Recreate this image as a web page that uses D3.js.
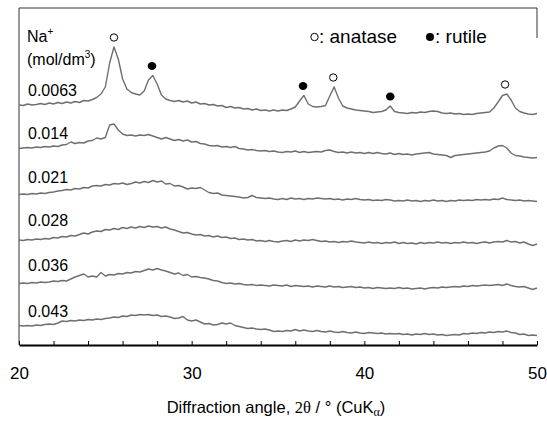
<!DOCTYPE html>
<html><head><meta charset="utf-8">
<script src="https://cdn.jsdelivr.net/npm/d3@7"></script>
<style>body{margin:0;background:#fff}svg{display:block}</style>
</head><body>
<svg id="c" width="547" height="421"></svg>
<script>
// ---- data ----
const scanStart = 20, scanStep = 0.25;            // 2θ sampling (deg)
const concentrations = ["0.0063", "0.014", "0.021", "0.028", "0.036", "0.043"]; // Na+ mol/dm3
const offsets = [230, 187, 143, 100, 55, 9];      // stacking offset (a.u.)
const xTickLabels = [20, 30, 40, 50];
const anatasePeaks = [25.5, 38.2, 48.15];
const rutilePeaks = [27.7, 36.45, 41.5];

const s0063 = [
 10,9.5,11,10, 10.5,11.5,10.5,12, 11,12.5,11.5,13, 12,13.5,12.5,14.5, 14,15.5,17.5,21,
 28,52,68,56, 36,26,22.5,21, 20,24,35,39.5, 31,20,16,14.5, 13.5,14.5,13,14,
 12,13,11,11.5, 10,10.5,9,9.5, 7.5,8.5,7,7.5, 6,6.5,5,6, 4.5,5,4,5,
 4,5,4.5,6, 8,14,19.5,11, 8.5,8,8.5,9.5, 19,28,17,9, 7,6,5,4.5,
 4,3.5,2.5,3, 3.5,5,9,3.5, 2.5,2,1.5,2.5, 2,3,2.5,3.5, 4,3.5,2,1.5,
 2,1,1.5,0.5, 1,0.5,1.5,2, 2.5,3,7,13, 19.5,21,15,7, 3.5,2,1,0.5, 1.5];
const s014 = [
 9.5,10,10.5,10, 11,10.5,11.5,11, 12,11.5,13,13.5, 16,14.5,15.5,15, 17,17.5,20,19,
 20.5,33,34,28, 24,22.5,23,22, 23,22.5,23.5,22, 20.5,19,20.5,19, 17.5,18.5,17,18,
 16,16.5,14.5,14, 12.5,12,12.5,11, 11.5,10.5,11.5,9.5, 9,8,8.5,7.5, 7,7.5,6.5,7,
 6,5.5,6.5,6, 7,5.5,6.5,5.5, 6,6.5,6,7.5, 8,6.5,5.5,6, 5,6,5,5.5,
 4.5,5.5,4.5,5.5, 4.5,4,5,3.5, 4.5,3.5,4,3, 4,4.5,5,5.5, 4,3.5,3,2.5,
 0.5,2.5,3,3.5, 4,4.5,5,5.5, 6,7,10,12, 12.5,10,5,2.5, 2,1,0.5,0, 0.5];
const s021 = [
 7.5,8,7.5,8.5, 8,9,8.5,9.5, 10,11,11.5,12.5, 12,13.5,13,14.5, 14,16,16.5,16,
 17.5,17,18.5,18, 19,17.5,18.5,20, 19,20.5,19.5,21.5, 20,21,18,18.5, 16,16.5,15,13,
 14,13.5,14.5,12, 9.5,8.5,9,7, 6.5,6,5.5,5, 4,4.5,6.5,4.5, 4,3.5,4,3,
 2.5,3.5,2.5,4, 3,3.5,2.5,3.5, 3,4,3.5,3, 3.5,2.5,3,2, 3,2.5,3.5,2.5,
 2,2.5,1.5,2, 1.5,2.5,2,1, 1.5,1,2,1, 1.5,0.5,1.5,1, 2,1,1.5,0.5,
 1.5,1,2,1.5, 2,1.5,2.5,2, 2.5,2,3,2.5, 4,2.5,2,1.5, 2,1,1.5,1, 0.5];
const s028 = [
 5,4.5,5.5,5, 6,5.5,6.5,6, 7.5,7,8.5,8, 9.5,9,10.5,12, 11,13,14,13.5,
 15.5,15,16.5,15.5, 17.5,16.5,18,17, 18.5,17.5,19,18, 18.5,17,18,16, 15,13.5,12,12.5,
 11,10,10.5,9, 9.5,8,9,7.5, 8,6.5,7,5.5, 6,5,5.5,4, 4.5,3.5,4.5,3.5,
 3,4,4.5,3.5, 5,4,5,4.5, 5.5,4.5,3.5,4, 3,3.5,2.5,3.5, 3,4,3,2.5,
 2,3,2,2.5, 1.5,2.5,2,3, 1.5,2.5,1.5,2, 1,2.5,1.5,2.5, 2,3,2,2.5,
 1.5,2.5,2,3, 2,2.5,1.5,2.5, 3,2,3,3.5, 3,4.5,3,3.5, 2,3,1,-0.5, 1];
const s036 = [
 6.5,7,6.5,7.5, 7,8,7.5,8, 9,8.5,9.5,9, 11,13,14.5,16, 13,14,13,17.5,
 14,15.5,15,16.5, 16,17.5,17,18.5, 18,19.5,21,20, 21.5,20,19,17.5, 16,17,14.5,15.5,
 13,13.5,12.5,12, 11,9.5,9,7.5, 6.5,7,6,6.5, 5.5,5,5.5,4.5, 5,4.5,4,5,
 4.5,4,5,3.5, 4.5,4,3.5,4, 3,4,3.5,3, 4,3,3.5,2.5, 3,3.5,2.5,3,
 2,2.5,1.5,2.5, 2,1.5,2,1.5, 2.5,1.5,2,1, 1.5,2,1,2, 2.5,2,3,2.5,
 3,3.5,3,4, 3.5,4.5,4,4.5, 5,4.5,5,5.5, 4.5,6,4.5,3.5, 3,3.5,2,0.5, 2];
const s043 = [
 10.5,10,10.5,10, 11,10.5,11.5,12, 11.5,13,15,14.5, 15.5,15,16,15.5, 16.5,16,17,16.5,
 17.5,18,19,18.5, 20,19.5,21,20.5, 21.5,21,21.5,20.5, 21,19.5,20,19, 17.5,18,19.5,16,
 15,16,14,12, 12.5,11,11.5,13, 12,13,10.5,9.5, 8.5,7.5,8,7, 6.5,7,6,4.5,
 5,4.5,5.5,5, 6.5,5,6,5, 4.5,5.5,4.5,4, 5,4,3.5,4.5, 3.5,3,4,3,
 2.5,3.5,3,2.5, 3,2,2.5,2, 2.5,1.5,2,1, 2,1.5,2.5,1.5, 2,1,1.5,0.5,
 1,1.5,1,2.5, 2,3,2.5,3.5, 3,4,3.5,4.5, 4,5,3.5,3, 1.5,2,0.5,1, 0.5];
const seriesList = [s0063, s014, s021, s028, s036, s043];

// ---- drawing ----
const svg = d3.select("#c");
const x = d3.scaleLinear().domain([20, 50]).range([19, 537]);
const y = d3.scaleLinear().domain([0, 337]).range([345, 8]);
const FONT = "Arial, 'Liberation Sans', sans-serif";

// frame
svg.append("line").attr("x1", 19).attr("x2", 537).attr("y1", 8).attr("y2", 8)
  .attr("stroke", "#333").attr("stroke-width", 1);
svg.append("line").attr("x1", 19).attr("x2", 19).attr("y1", 8).attr("y2", 345)
  .attr("stroke", "#333").attr("stroke-width", 1);
svg.append("line").attr("x1", 537).attr("x2", 537).attr("y1", 8).attr("y2", 38)
  .attr("stroke", "#333").attr("stroke-width", 1);

// traces
const line = d3.line()
  .x((d, i) => x(scanStart + i * scanStep))
  .y(d => d);
seriesList.forEach((vals, k) => {
  const pts = vals.map(v => y(v + offsets[k]));
  svg.append("path")
    .attr("d", line(pts))
    .attr("fill", "none")
    .attr("stroke", "#6f6f6f")
    .attr("stroke-width", 1.4)
    .attr("stroke-linejoin", "round");
  svg.append("text")
    .attr("x", 28).attr("y", y(offsets[k]) - 19)
    .attr("font-family", FONT).attr("font-size", 16).attr("fill", "#000")
    .text(concentrations[k]);
});

// peak markers above the 0.0063 trace
function peakTop(deg) {
  let m = -Infinity;
  s0063.forEach((v, i) => {
    const a = scanStart + i * scanStep;
    if (Math.abs(a - deg) <= 0.3) m = Math.max(m, v);
  });
  return y(m + offsets[0]) - 9.5;
}
anatasePeaks.forEach(p => {
  svg.append("circle").attr("cx", x(p)).attr("cy", peakTop(p)).attr("r", 3.7)
    .attr("fill", "#fff").attr("stroke", "#000").attr("stroke-width", 1);
});
rutilePeaks.forEach(p => {
  svg.append("ellipse").attr("cx", x(p)).attr("cy", peakTop(p)).attr("rx", 4.3).attr("ry", 4)
    .attr("fill", "#000");
});

// header label
const h1 = svg.append("text").attr("x", 27).attr("y", 42)
  .attr("font-family", FONT).attr("font-size", 16);
h1.append("tspan").text("Na");
h1.append("tspan").attr("font-size", 10).attr("dy", -7).text("+");
const h2 = svg.append("text").attr("x", 27).attr("y", 65)
  .attr("font-family", FONT).attr("font-size", 16);
h2.append("tspan").text("(mol/dm");
h2.append("tspan").attr("font-size", 10).attr("dy", -7).text("3");
h2.append("tspan").attr("dy", 7).text(")");

// legend
svg.append("circle").attr("cx", 314.5).attr("cy", 37).attr("r", 3.7)
  .attr("fill", "#fff").attr("stroke", "#000").attr("stroke-width", 1);
svg.append("text").attr("x", 319).attr("y", 43).attr("font-family", FONT)
  .attr("font-size", 19).text(": anatase");
svg.append("circle").attr("cx", 430).attr("cy", 37).attr("r", 4)
  .attr("fill", "#000");
svg.append("text").attr("x", 435).attr("y", 43).attr("font-family", FONT)
  .attr("font-size", 19).text(": rutile");

// x axis: minor ticks every 2 deg, labels every 10
const minorTicks = d3.range(20, 50.001, 2);
const axG = svg.append("g").attr("transform", "translate(0,345)")
  .call(d3.axisBottom(x).tickValues(minorTicks).tickSizeInner(-4).tickSizeOuter(0).tickFormat(""));
axG.select(".domain").attr("stroke", "#000").attr("stroke-width", 2);
axG.selectAll(".tick line").attr("stroke", "#000").attr("stroke-width", 1);

const labG = svg.append("g").attr("transform", "translate(0,345)")
  .call(d3.axisBottom(x).tickValues(xTickLabels).tickSize(0).tickPadding(22).tickFormat(d3.format("d")));
labG.select(".domain").remove();
labG.selectAll("text").attr("font-family", FONT).attr("font-size", 17).attr("fill", "#000");

// axis title
const t = svg.append("text").attr("x", 276).attr("y", 413).attr("text-anchor", "middle")
  .attr("font-family", FONT).attr("font-size", 16.5).attr("fill", "#000");
t.append("tspan").text("Diffraction angle, ");
t.append("tspan").attr("font-family", "'Liberation Serif', 'Times New Roman', serif").text("2θ");
t.append("tspan").text(" / ° (CuK");
t.append("tspan").attr("font-family", "'Liberation Serif', 'Times New Roman', serif")
  .attr("font-size", 12).attr("dy", 3).text("α");
t.append("tspan").attr("dy", -3).text(")");
</script>
</body></html>
